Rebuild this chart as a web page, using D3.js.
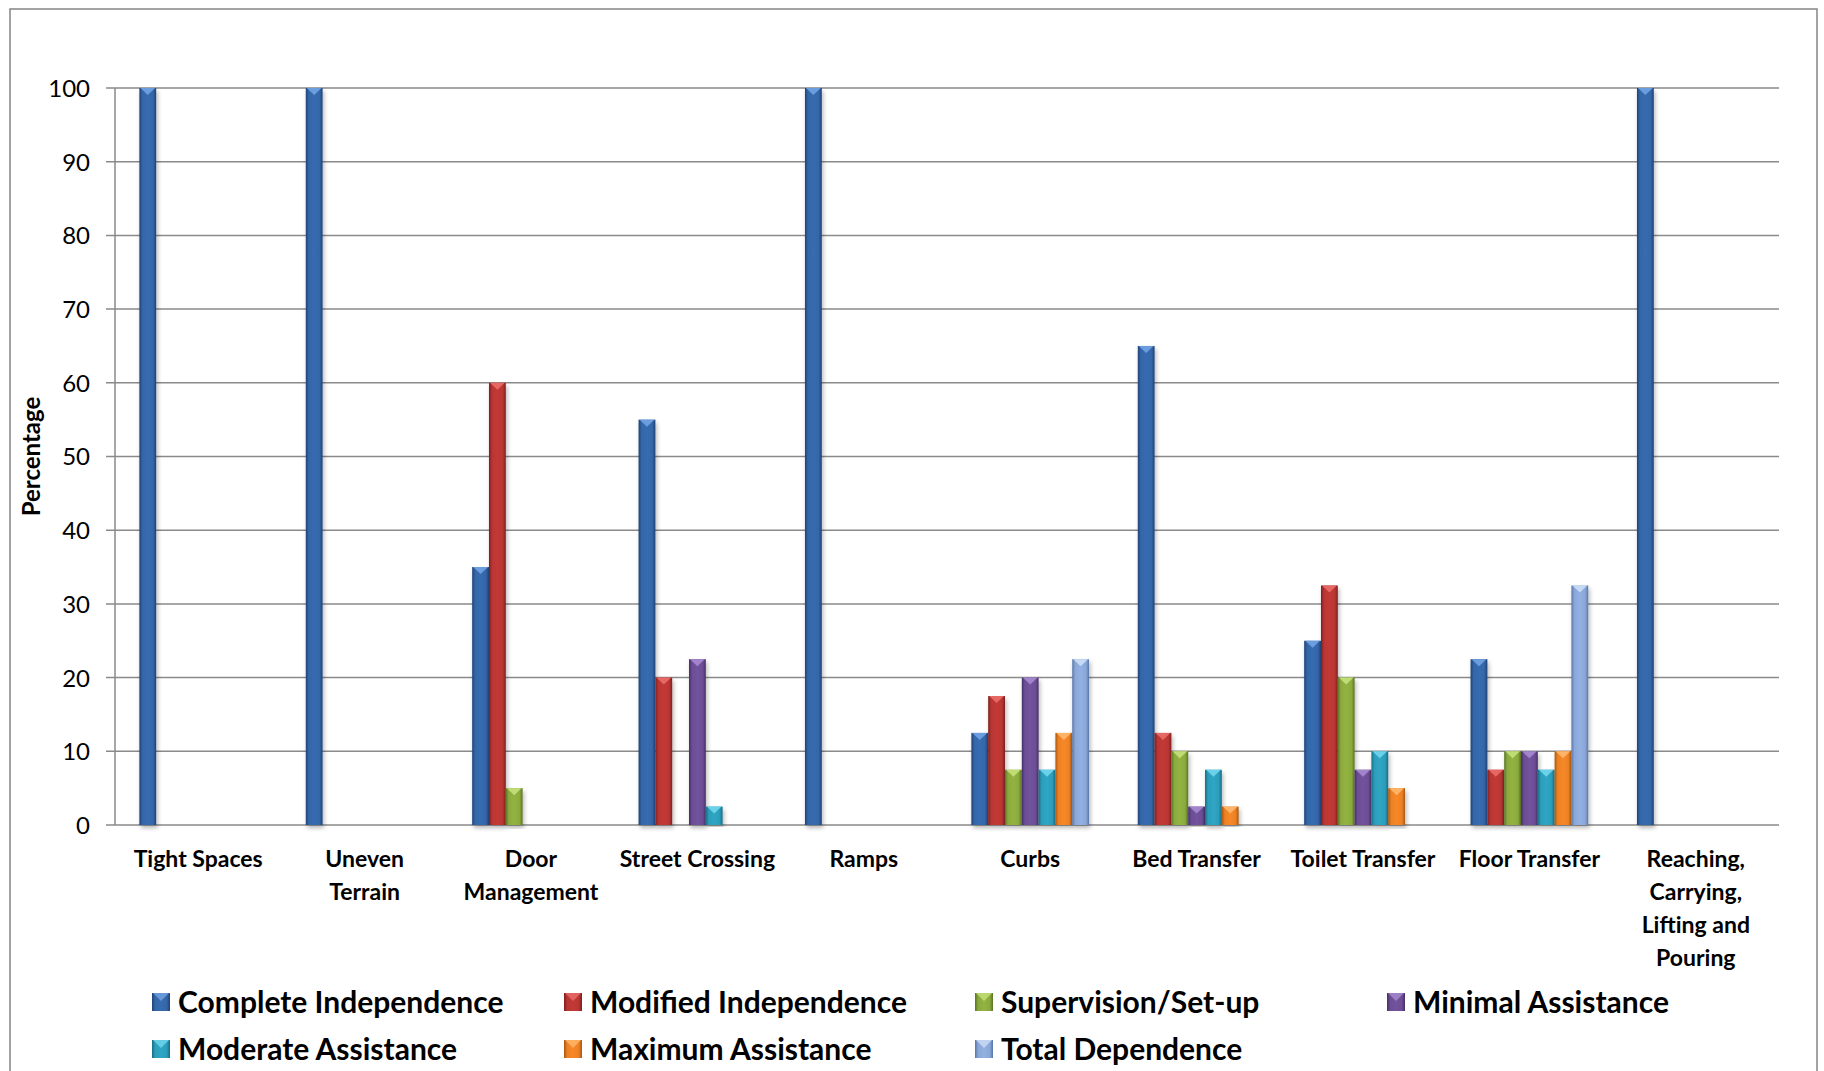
<!DOCTYPE html>
<html><head><meta charset="utf-8">
<script src="https://cdn.jsdelivr.net/npm/d3@7"></script>
<style>
html,body{margin:0;padding:0;background:#fff;}
svg{display:block;font-family:Lato,"Noto Sans",sans-serif;}
</style></head>
<body>
<svg id="chart" width="1824" height="1071"></svg>
<script>
const categories = ["Tight Spaces","Uneven Terrain","Door Management","Street Crossing","Ramps","Curbs","Bed Transfer","Toilet Transfer","Floor Transfer","Reaching, Carrying, Lifting and Pouring"];
const categoryLines = [["Tight Spaces"],["Uneven","Terrain"],["Door","Management"],["Street Crossing"],["Ramps"],["Curbs"],["Bed Transfer"],["Toilet Transfer"],["Floor Transfer"],["Reaching,","Carrying,","Lifting and","Pouring"]];
const seriesNames = ["Complete Independence","Modified Independence","Supervision/Set-up","Minimal Assistance","Moderate Assistance","Maximum Assistance","Total Dependence"];
const completeIndependence = [100,100,35,55,100,12.5,65,25,22.5,100];
const modifiedIndependence = [0,0,60,20,0,17.5,12.5,32.5,7.5,0];
const supervisionSetup     = [0,0,5,0,0,7.5,10,20,10,0];
const minimalAssistance    = [0,0,0,22.5,0,20,2.5,7.5,10,0];
const moderateAssistance   = [0,0,0,2.5,0,7.5,7.5,10,7.5,0];
const maximumAssistance    = [0,0,0,0,0,12.5,2.5,5,10,0];
const totalDependence      = [0,0,0,0,0,22.5,0,0,32.5,0];
const seriesValues = [completeIndependence,modifiedIndependence,supervisionSetup,minimalAssistance,moderateAssistance,maximumAssistance,totalDependence];
const yTicks = [0,10,20,30,40,50,60,70,80,90,100];
const seriesColors = ["#3466A8","#B93633","#8BAA3E","#6C4E95","#2C9DBA","#EB8125","#8AA7D7"];
const seriesDark   = ["#1F4275","#7C2020","#5A7424","#452F66","#1A6D83","#A9560F","#5877A8"];
const seriesLight  = ["#6FA0E0","#E86A68","#C2DE78","#A487CE","#6FD4EC","#FFB56A","#C9DBF5"];

const svg = d3.select("#chart");
const pLeft = 115, pRight = 1779, pTop = 88, pBottom = 825;

const x = d3.scaleBand().domain(categories).range([pLeft, pRight]).paddingInner(0).paddingOuter(0);
const xs = d3.scaleBand().domain(seriesNames).range([0, x.bandwidth()]).paddingInner(0).paddingOuter(1.45);
const y = d3.scaleLinear().domain([0,100]).range([pBottom, pTop]);

const defs = svg.append("defs");
seriesNames.forEach((s,i)=>{
  const g = defs.append("linearGradient").attr("id","grad"+i).attr("x1","0").attr("x2","1").attr("y1","0").attr("y2","0");
  g.append("stop").attr("offset","0%").attr("stop-color",seriesDark[i]);
  g.append("stop").attr("offset","18%").attr("stop-color",seriesColors[i]);
  g.append("stop").attr("offset","50%").attr("stop-color",d3.color(seriesColors[i]).brighter(0.15));
  g.append("stop").attr("offset","82%").attr("stop-color",seriesColors[i]);
  g.append("stop").attr("offset","100%").attr("stop-color",seriesDark[i]);
});
const f = defs.append("filter").attr("id","shadow").attr("x","-30%").attr("y","-5%").attr("width","160%").attr("height","115%");
f.append("feDropShadow").attr("dx",1.5).attr("dy",3).attr("stdDeviation",2.2).attr("flood-color","#000").attr("flood-opacity",0.28);

// frame
svg.append("rect").attr("x",10).attr("y",9).attr("width",1807).attr("height",1100)
  .attr("fill","none").attr("stroke","#8c8c8c").attr("stroke-width",1.6);

// gridlines
svg.append("g").selectAll("line").data(yTicks).join("line")
  .attr("x1",pLeft-9).attr("x2",pRight).attr("y1",d=>y(d)).attr("y2",d=>y(d))
  .attr("stroke","#8a8a8a").attr("stroke-width",1.5);

// y axis
const yAxis = d3.axisLeft(y).tickValues(yTicks).tickSize(0).tickPadding(25);
const ya = svg.append("g").attr("transform",`translate(${pLeft},0)`).call(yAxis);
ya.select(".domain").attr("stroke","#8a8a8a").attr("stroke-width",1.5).attr("d",`M0,${pTop}V${pBottom}`);
ya.selectAll("text").attr("font-size",24).attr("fill","#000").attr("font-family","Lato,sans-serif").attr("dy","0.35em");

// y label
svg.append("text").attr("transform",`translate(32,${(pTop+pBottom)/2}) rotate(-90)`)
  .attr("text-anchor","middle").attr("font-weight","bold").attr("font-size",24).attr("fill","#000")
  .attr("dy","0.35em").text("Percentage");

// bars
const barData = [];
categories.forEach((c,ci)=>{
  seriesNames.forEach((s,si)=>{
    const v = seriesValues[si][ci];
    if (v > 0) barData.push({c, s, si, v});
  });
});
const bars = svg.append("g").selectAll("g").data(barData).join("g");
bars.append("rect")
  .attr("x",d=>x(d.c)+xs(d.s)).attr("width",xs.bandwidth())
  .attr("y",d=>y(d.v)).attr("height",d=>y(0)-y(d.v))
  .attr("fill",d=>`url(#grad${d.si})`).attr("filter","url(#shadow)");
bars.append("path")
  .attr("d",d=>{
    const x0 = x(d.c)+xs(d.s), w = xs.bandwidth(), y0 = y(d.v), h = Math.min(7, y(0)-y(d.v));
    return `M${x0+1},${y0}H${x0+w-1}L${x0+w/2},${y0+h}Z`;
  })
  .attr("fill",d=>seriesLight[d.si]).attr("opacity",0.95);

// category labels
const cl = svg.append("g").selectAll("text").data(categories).join("text")
  .attr("x",d=>x(d)+x.bandwidth()/2).attr("y",867)
  .attr("text-anchor","middle").attr("font-weight","bold").attr("font-size",23).attr("fill","#000");
cl.each(function(d,i){
  const t = d3.select(this);
  categoryLines[i].forEach((ln,k)=>{
    t.append("tspan").attr("x",x(d)+x.bandwidth()/2).attr("dy",k===0?0:33).text(ln);
  });
});

// legend
const legX = [152,564,975,1387];
const legY = [1002,1049];
const lg = svg.append("g").selectAll("g").data(seriesNames).join("g")
  .attr("transform",(d,i)=>`translate(${legX[i%4]},${legY[Math.floor(i/4)]})`);
lg.append("rect").attr("x",0).attr("y",-9).attr("width",18).attr("height",18)
  .attr("fill",(d,i)=>`url(#grad${i})`);
lg.append("path").attr("d","M1,-9H17L9,-1Z").attr("fill",(d,i)=>seriesLight[i]).attr("opacity",0.85);
lg.append("text").attr("x",26).attr("dy","0.35em").attr("font-weight","bold").attr("font-size",30)
  .attr("fill","#000").text(d=>d);
</script>
</body></html>
